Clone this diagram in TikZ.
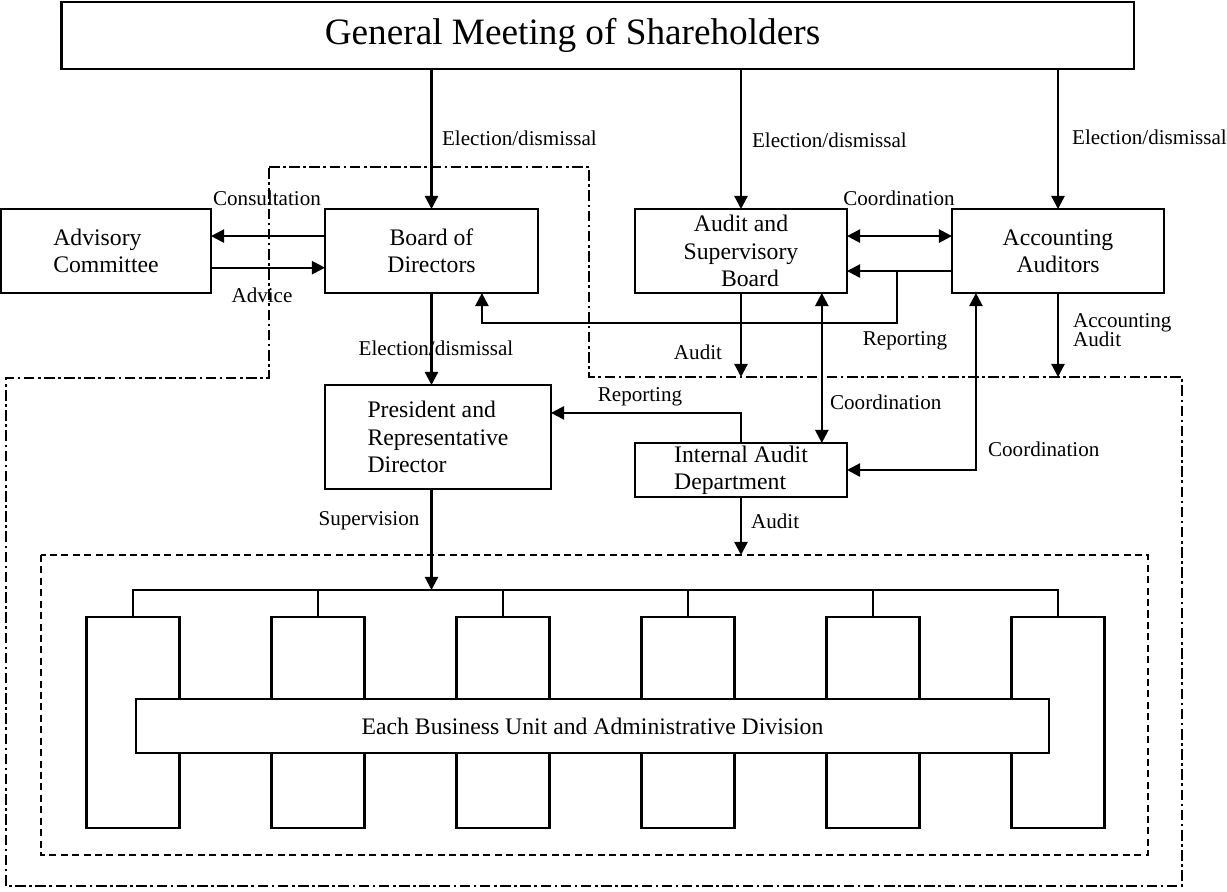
\documentclass[tikz,border=0pt]{standalone}
\usepackage{fontspec}
\setmainfont{Liberation Serif}
\usetikzlibrary{arrows.meta}

\begin{document}
\begin{tikzpicture}[x=0.02cm, y=-0.02cm,
    every node/.style={inner sep=1pt},
    box/.style={draw, line width=1.6pt, inner sep=0pt, outer sep=0pt, minimum height=1.68cm, font=\fontsize{13.5}{15.5}\selectfont, align=center},
    lbl/.style={font=\fontsize{12}{11}\selectfont, align=left},
    arr/.style={line width=1.3pt, -{Triangle[length=7.5pt,width=7.5pt]}},
    arrs/.style={line width=1.3pt, {Triangle[length=7.5pt,width=7.5pt]}-{Triangle[length=7.5pt,width=7.5pt]}},
    unit/.style={draw, line width=1.3pt, minimum width=1.86cm, minimum height=4.22cm, inner sep=0pt, outer sep=0pt}]
    \useasboundingbox (0,0) rectangle (1227,892);

    \node[box, minimum width=21.46cm, minimum height=1.34cm, font=\fontsize{21.2}{24}\selectfont] (gms) at (597.5,35.5) {General Meeting of Shareholders\hspace*{1cm}};
    \node[box, minimum width=4.2cm, align=left] (adv) at (106,251) {Advisory\\Committee};
    \node[box, minimum width=4.26cm] (bod) at (431.5,251) {Board of\\Directors};
    \node[box, minimum width=4.24cm] (asb) at (741,251) {Audit and\\Supervisory\\\hspace*{0.36cm}Board};
    \node[box, minimum width=4.24cm] (acc) at (1058,251) {Accounting\\Auditors};
    \node[box, minimum width=4.52cm, minimum height=2.08cm, align=left] (pres) at (438,437) {President and\\Representative\\Director};
    \node[box, minimum width=4.24cm, minimum height=1.08cm, align=left] (iad) at (741,470) {Internal Audit\\Department};

    \draw[line width=1.3pt, dash pattern=on 6pt off 2pt on 1.5pt off 2pt] (269,167) -- (589,167) -- (589,377) -- (1182,377) -- (1182,886) -- (6,886) -- (6,378) -- (269,378) -- cycle;
    \coordinate (ddtop) at (0,377);
    \draw[line width=1.3pt, dash pattern=on 4pt off 2.5pt] (41,555) rectangle (1148,855);
    \coordinate (untop) at (0,555);
    \coordinate (bus) at (0,590);

    \foreach \i in {0,...,5}
      \node[unit] (col\i) at (133+185*\i,722.5) {};
    \node[box, fill=white, line width=1.3pt, minimum width=18.26cm, minimum height=1.08cm] (bar) at (592.5,726) {Each Business Unit and Administrative Division};
    \draw[line width=1.3pt] (col0.north) |- (bus -| col5.north) -- (col5.north);
    \foreach \i in {1,...,4}
      \draw[line width=1.3pt] (col\i.north) -- (col\i.north |- bus);

    \draw[arr] (gms.south -| bod.north) -- (bod.north);
    \draw[arr] (gms.south -| asb.north) -- (asb.north);
    \draw[arr] (gms.south -| acc.north) -- (acc.north);
    \draw[arr] ([yshift=8.5pt]bod.west) -- ([yshift=8.5pt]adv.east);
    \draw[arr] ([yshift=-9.5pt]adv.east) -- ([yshift=-9.5pt]bod.west);
    \draw[arrs] ([yshift=8.5pt]asb.east) -- ([yshift=8.5pt]acc.west);
    \draw[arr] ([yshift=-11.4pt]acc.west) -- ([yshift=-11.4pt]asb.east);
    \coordinate (rpt) at (897,271);
    \draw[arr] (rpt) -- ++(0,52) -| ([xshift=28.7pt]bod.south);
    \draw[arr] (asb.south) -- (asb.south |- ddtop);
    \draw[arr] (acc.south) -- (acc.south |- ddtop);
    \draw[arrs] ([xshift=46pt]asb.south) -- ([xshift=46pt]iad.north);
    \draw[arrs] ([xshift=-46.7pt]acc.south) |- (iad.east);
    \draw[arr] (bod.south) -- (bod.south |- pres.north);
    \draw[arr] (iad.north) |- ([yshift=13.7pt]pres.east);
    \draw[arr] (bod.south |- pres.south) -- (bod.south |- bus);
    \draw[arr] (iad.south) -- (iad.south |- untop);

    \node[lbl, anchor=west] (el1) at (440,138) {Election/dismissal};
    \node[lbl, anchor=west] (el2) at (750,140) {Election/dismissal};
    \node[lbl, anchor=west] (el3) at (1070,137) {Election/dismissal};
    \node[lbl] (cons) at (267,198) {Consultation};
    \node[lbl] (coo1) at (899,198) {Coordination};
    \node[lbl] (advc) at (262,295) {Advice};
    \node[lbl] (el4) at (436,348) {Election/dismissal};
    \node[lbl] (aud1) at (698,352) {Audit};
    \node[lbl] (rep1) at (905,341) {Reporting};
    \node[lbl, anchor=west] (accd) at (1071,330) {Accounting\\Audit};
    \node[lbl, anchor=west] (coo2) at (828,402) {Coordination};
    \node[lbl] (rep2) at (640,397) {Reporting};
    \node[lbl, anchor=west] (coo3) at (986,449) {Coordination};
    \node[lbl] (supv) at (369,521) {Supervision};
    \node[lbl, anchor=west] (aud2) at (749,521) {Audit};
\end{tikzpicture}
\end{document}
